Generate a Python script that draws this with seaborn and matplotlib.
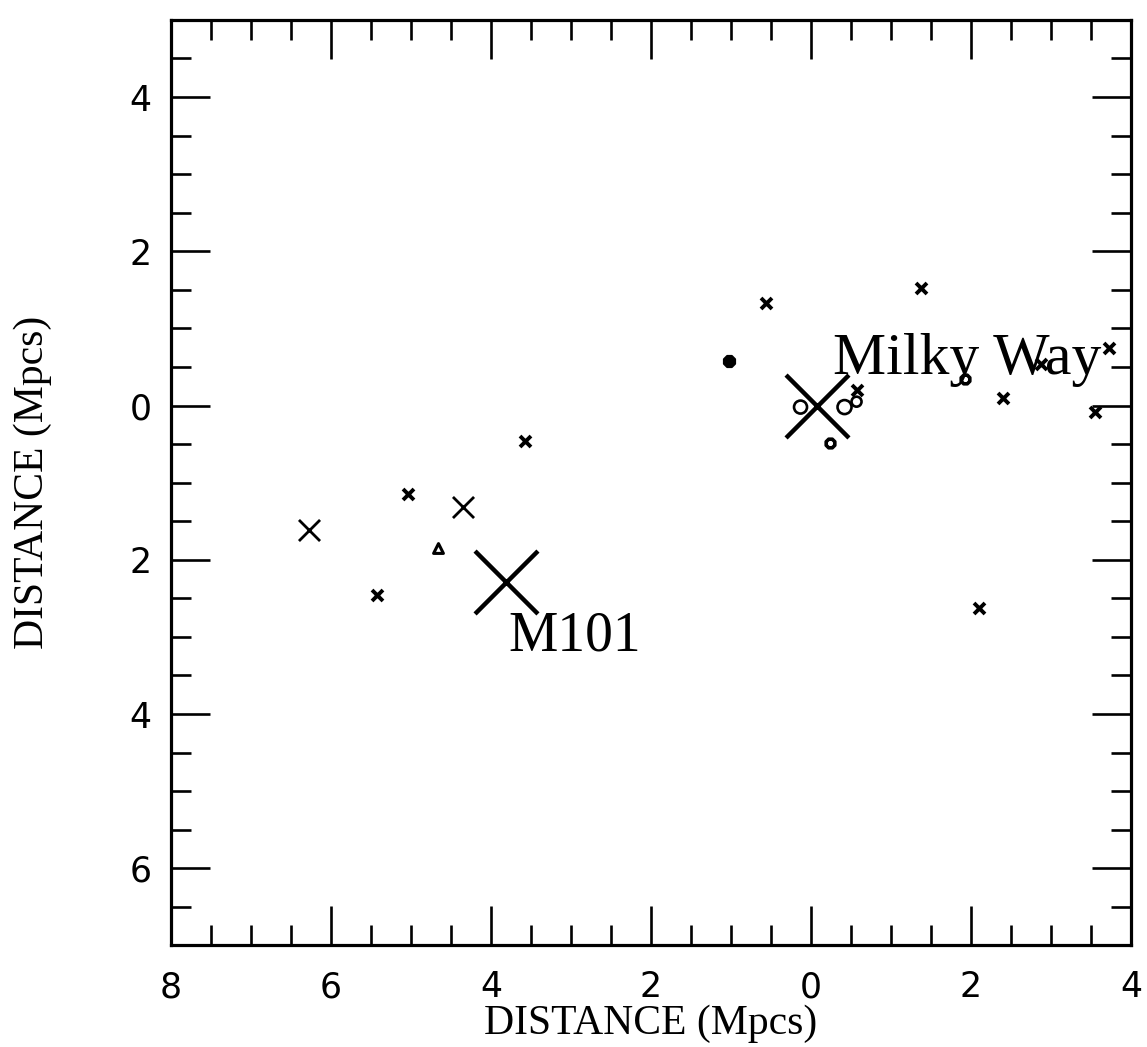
import matplotlib
matplotlib.use("Agg")
import matplotlib.pyplot as plt
from matplotlib.ticker import MultipleLocator, FuncFormatter
import seaborn as sns
import pandas as pd

# Galaxy positions (Mpc) on the projected plane
small_x_x = [-0.56, 1.38, -3.57, -5.04, -5.43, 2.10, 2.40, 3.55, 3.73, 2.88, 0.58]
small_x_y = [1.33, 1.53, -0.46, -1.15, -2.46, -2.63, 0.10, -0.08, 0.75, 0.54, 0.20]

medium_x_x = [-6.28, -4.35]
medium_x_y = [-1.61, -1.31]

giant_names = ["Milky Way", "M101"]
giant_x = [0.08, -3.81]
giant_y = [0.00, -2.29]

filled_x = [-1.03]
filled_y = [0.58]

gear_x = [0.24, 1.92]
gear_y = [-0.49, 0.34]

circle_x = [-0.13, 0.42, 0.57]
circle_y = [-0.02, -0.02, 0.05]
circle_size = [13, 14, 10]

triangle_x = [-4.66]
triangle_y = [-1.85]

x_ticks = [-8, -6, -4, -2, 0, 2, 4]
y_ticks = [-6, -4, -2, 0, 2, 4]

sns.set_style("ticks")
plt.rcParams["font.family"] = ["DejaVu Sans"]
plt.rcParams.update({
    "text.color": "black",
    "axes.labelcolor": "black",
    "xtick.color": "black",
    "ytick.color": "black",
    "axes.edgecolor": "black",
})

fig = plt.figure(figsize=(11.47, 10.47), dpi=100)
ax = fig.add_axes([0.149, 0.097, 0.837, 0.884])

small_df = pd.DataFrame({"x": small_x_x, "y": small_x_y})
medium_df = pd.DataFrame({"x": medium_x_x, "y": medium_x_y})
giant_df = pd.DataFrame({"x": giant_x, "y": giant_y, "name": giant_names})
filled_df = pd.DataFrame({"x": filled_x, "y": filled_y})
gear_df = pd.DataFrame({"x": gear_x, "y": gear_y})
circle_df = pd.DataFrame({"x": circle_x, "y": circle_y, "s": circle_size})
tri_df = pd.DataFrame({"x": triangle_x, "y": triangle_y})

sns.scatterplot(data=small_df, x="x", y="y", marker="x", s=62, color="black",
                linewidth=2.8, ax=ax, legend=False)
sns.scatterplot(data=medium_df, x="x", y="y", marker="x", s=230, color="black",
                linewidth=2.0, ax=ax, legend=False)
sns.scatterplot(data=giant_df, x="x", y="y", marker="x", s=2050, color="black",
                linewidth=3.2, ax=ax, legend=False)
sns.scatterplot(data=filled_df, x="x", y="y", marker="8", s=75, color="black",
                edgecolor="black", linewidth=1.5, ax=ax, legend=False)
sns.scatterplot(data=gear_df, x="x", y="y", marker="8", s=45, facecolor="white",
                edgecolor="black", linewidth=2.6, ax=ax, legend=False)
for _, r in circle_df.iterrows():
    sns.scatterplot(x=[r["x"]], y=[r["y"]], marker="o", s=(r["s"] * 0.72) ** 2,
                    facecolor="none", edgecolor="black", linewidth=1.9,
                    ax=ax, legend=False)
sns.scatterplot(data=tri_df, x="x", y="y", marker="^", s=50, facecolor="white",
                edgecolor="black", linewidth=2.2, ax=ax, legend=False)

ax.text(0.27, 0.41, "Milky Way", fontsize=43, family="Liberation Serif",
        ha="left", va="baseline")
ax.text(-3.78, -3.18, "M101", fontsize=40, family="Liberation Serif",
        ha="left", va="baseline")

ax.set_xlim(-8, 4)
ax.set_ylim(-7, 5)
ax.set_xticks(x_ticks)
ax.set_yticks(y_ticks)
ax.xaxis.set_minor_locator(MultipleLocator(0.5))
ax.yaxis.set_minor_locator(MultipleLocator(0.5))
absfmt = FuncFormatter(lambda v, p: f"{abs(v):g}")
ax.xaxis.set_major_formatter(absfmt)
ax.yaxis.set_major_formatter(absfmt)

ax.tick_params(which="both", direction="in", top=True, right=True,
               color="black", width=1.9)
ax.tick_params(which="major", length=28, labelsize=25)
ax.tick_params(which="minor", length=14.5)
ax.tick_params(axis="x", which="major", pad=18)
ax.tick_params(axis="y", which="major", pad=14)

for sp in ax.spines.values():
    sp.set_visible(True)
    sp.set_linewidth(2.3)
    sp.set_color("black")

ax.set_xlabel("DISTANCE (Mpcs)", fontsize=30, family="Liberation Serif",
              labelpad=0)
ax.set_ylabel("DISTANCE (Mpcs)", fontsize=30, family="Liberation Serif",
              labelpad=56)

fig.savefig("out.png", dpi=100, facecolor="white")
